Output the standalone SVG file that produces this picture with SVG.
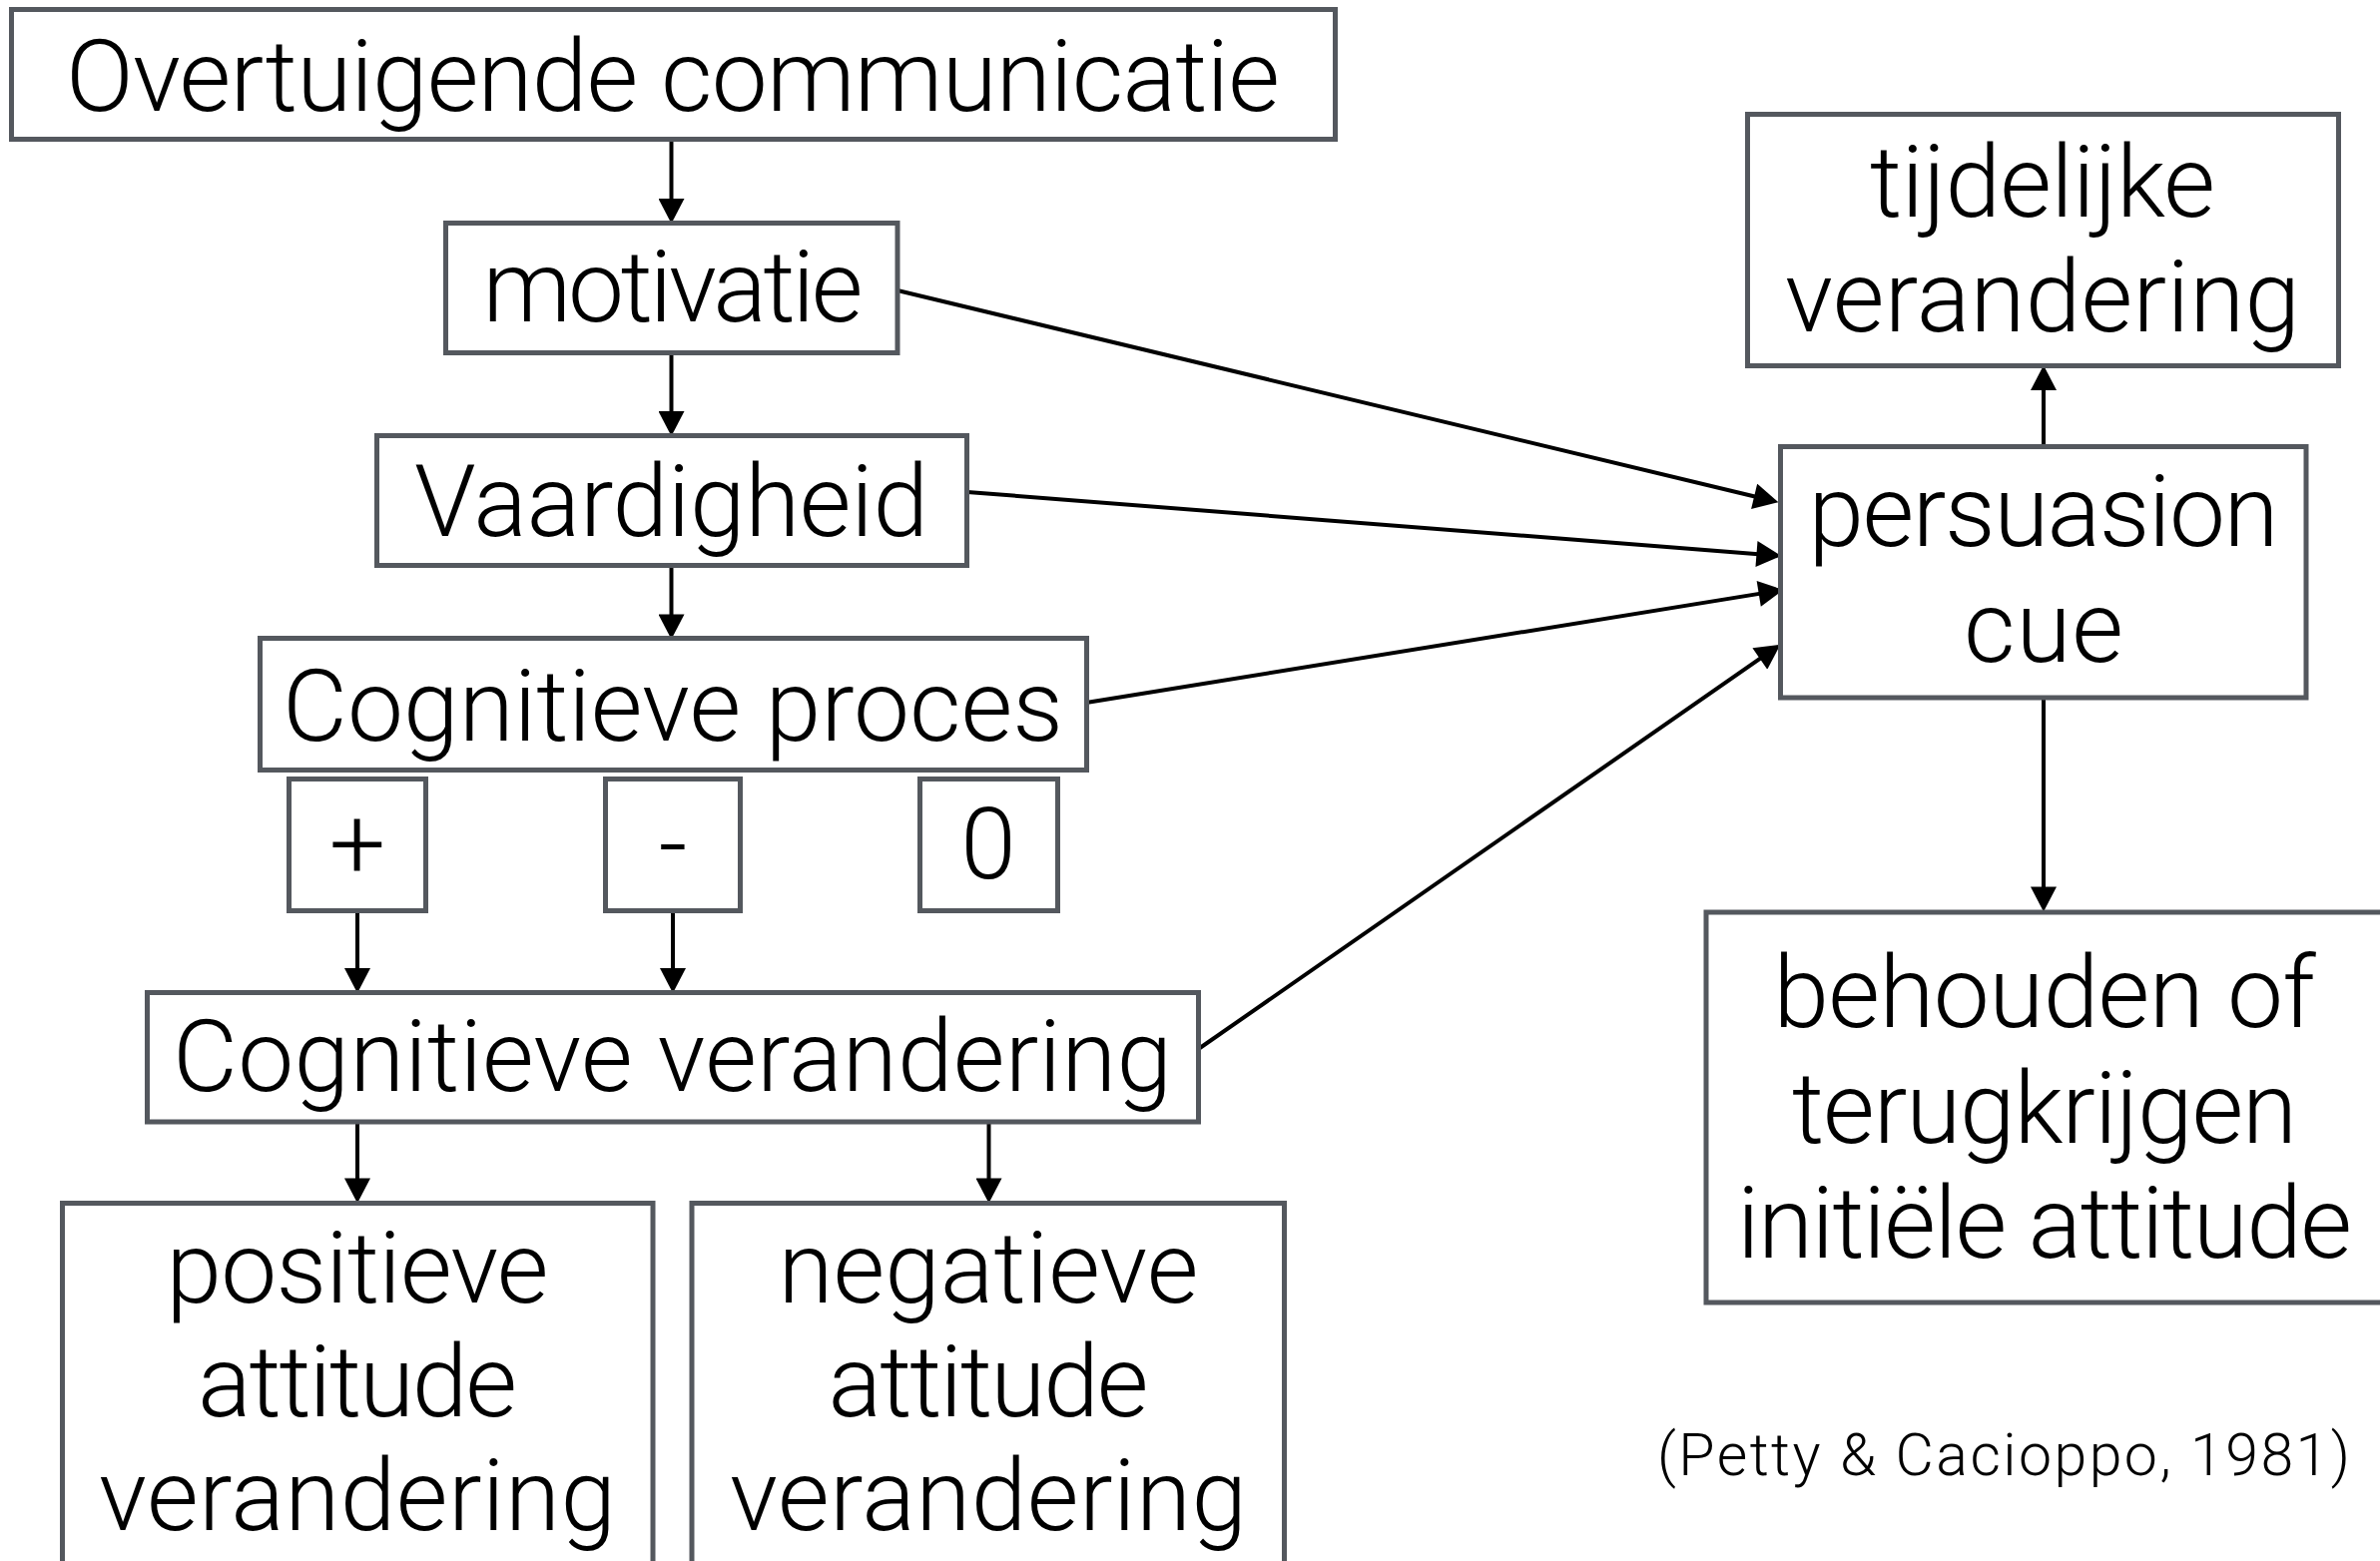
<svg xmlns="http://www.w3.org/2000/svg" width="2384" height="1564" viewBox="0 0 2384 1564">
<style>
.box{fill:#fff;stroke:#54585e;stroke-width:5}
.t{font-family:Roboto,"Liberation Sans",sans-serif;font-weight:300;font-size:100px;fill:#000;text-anchor:middle}
.c{font-family:Roboto,"Liberation Sans",sans-serif;font-weight:300;font-size:59px;fill:#000;text-anchor:middle}
.e{fill:none;stroke:#000;stroke-width:4}
</style>
<defs>
<marker id="ah" markerUnits="userSpaceOnUse" markerWidth="26" markerHeight="26" viewBox="0 0 24 25" refX="14" refY="12.5" orient="auto">
<path d="M0,0 L24,12.5 L0,25 z" fill="#000"/>
</marker>
</defs>
<rect width="2384" height="1564" fill="#fff"/>
<g id="connectors">
<line class="e" x1="672.5" y1="140" x2="672.5" y2="213.5" marker-end="url(#ah)"/>
<line class="e" x1="672.5" y1="354" x2="672.5" y2="426.5" marker-end="url(#ah)"/>
<line class="e" x1="672.5" y1="567" x2="672.5" y2="630" marker-end="url(#ah)"/>
<line class="e" x1="358" y1="913" x2="358" y2="984.5" marker-end="url(#ah)"/>
<line class="e" x1="674" y1="913" x2="674" y2="984.5" marker-end="url(#ah)"/>
<line class="e" x1="358" y1="1120" x2="358" y2="1195" marker-end="url(#ah)"/>
<line class="e" x1="990.5" y1="1120" x2="990.5" y2="1195" marker-end="url(#ah)"/>
<line class="e" x1="2047" y1="447" x2="2047" y2="376.5" marker-end="url(#ah)"/>
<line class="e" x1="2047" y1="700" x2="2047" y2="903" marker-end="url(#ah)"/>
<line class="e" x1="899" y1="291" x2="1771.3" y2="500.7" marker-end="url(#ah)"/>
<line class="e" x1="969" y1="493" x2="1774" y2="556.2" marker-end="url(#ah)"/>
<line class="e" x1="1088" y1="704" x2="1776.1" y2="592.6" marker-end="url(#ah)"/>
<line class="e" x1="1199" y1="1052" x2="1774.8" y2="651.7" marker-end="url(#ah)"/>
</g>
<g id="overtuigende"><rect class="box" x="11.5" y="9.5" width="1326" height="130"/><text class="t" x="674" y="111" textLength="1216" lengthAdjust="spacing">Overtuigende communicatie</text></g>
<g id="motivatie"><rect class="box" x="446.5" y="223.5" width="452.5" height="130"/><text class="t" x="674" y="322" textLength="381" lengthAdjust="spacing">motivatie</text></g>
<g id="vaardigheid"><rect class="box" x="377.5" y="436.5" width="591" height="130"/><text class="t" x="672.5" y="537" textLength="515" lengthAdjust="spacing">Vaardigheid</text></g>
<g id="cognitieve-proces"><rect class="box" x="260.5" y="639.5" width="828" height="132"/><text class="t" x="674" y="742" textLength="782" lengthAdjust="spacing">Cognitieve proces</text></g>
<g id="plus"><rect class="box" x="289.5" y="780.5" width="137" height="132"/><text class="t" x="358" y="880">+</text></g>
<g id="minus"><rect class="box" x="606.5" y="780.5" width="135" height="132"/><text class="t" x="674" y="880">-</text></g>
<g id="zero"><rect class="box" x="921.5" y="780.5" width="138" height="132"/><text class="t" x="990" y="880">0</text></g>
<g id="cognitieve-verandering"><rect class="box" x="147.5" y="994.5" width="1053" height="129.5"/><text class="t" x="673.5" y="1093" textLength="1001" lengthAdjust="spacing">Cognitieve verandering</text></g>
<g id="positieve"><rect class="box" x="62.5" y="1205.5" width="591.5" height="400"/><text class="t" x="358" y="1305" textLength="383" lengthAdjust="spacing">positieve</text><text class="t" x="358" y="1419" textLength="320" lengthAdjust="spacing">attitude</text><text class="t" x="358" y="1533" textLength="518" lengthAdjust="spacing">verandering</text></g>
<g id="negatieve"><rect class="box" x="693" y="1205.5" width="593.5" height="400"/><text class="t" x="990" y="1305" textLength="421" lengthAdjust="spacing">negatieve</text><text class="t" x="990" y="1419" textLength="321" lengthAdjust="spacing">attitude</text><text class="t" x="990" y="1533" textLength="518" lengthAdjust="spacing">verandering</text></g>
<g id="tijdelijke"><rect class="box" x="1750.5" y="114.5" width="592" height="252"/><text class="t" x="2046" y="217" textLength="346" lengthAdjust="spacing">tijdelijke</text><text class="t" x="2046" y="332" textLength="516" lengthAdjust="spacing">verandering</text></g>
<g id="persuasion"><rect class="box" x="1783.5" y="447.5" width="526.5" height="251.5"/><text class="t" x="2047" y="547" textLength="471" lengthAdjust="spacing">persuasion</text><text class="t" x="2047" y="663" textLength="160" lengthAdjust="spacing">cue</text></g>
<g id="behouden"><rect class="box" x="1709" y="914" width="680" height="391"/><text class="t" x="2048" y="1029" textLength="543" lengthAdjust="spacing">behouden of</text><text class="t" x="2048" y="1145" textLength="506" lengthAdjust="spacing">terugkrijgen</text><text class="t" x="2048" y="1260" textLength="616" lengthAdjust="spacing">initiële attitude</text></g>
<g id="citation"><text class="c" x="2007" y="1478" textLength="694" lengthAdjust="spacing">(Petty &amp; Cacioppo, 1981)</text></g>
</svg>
